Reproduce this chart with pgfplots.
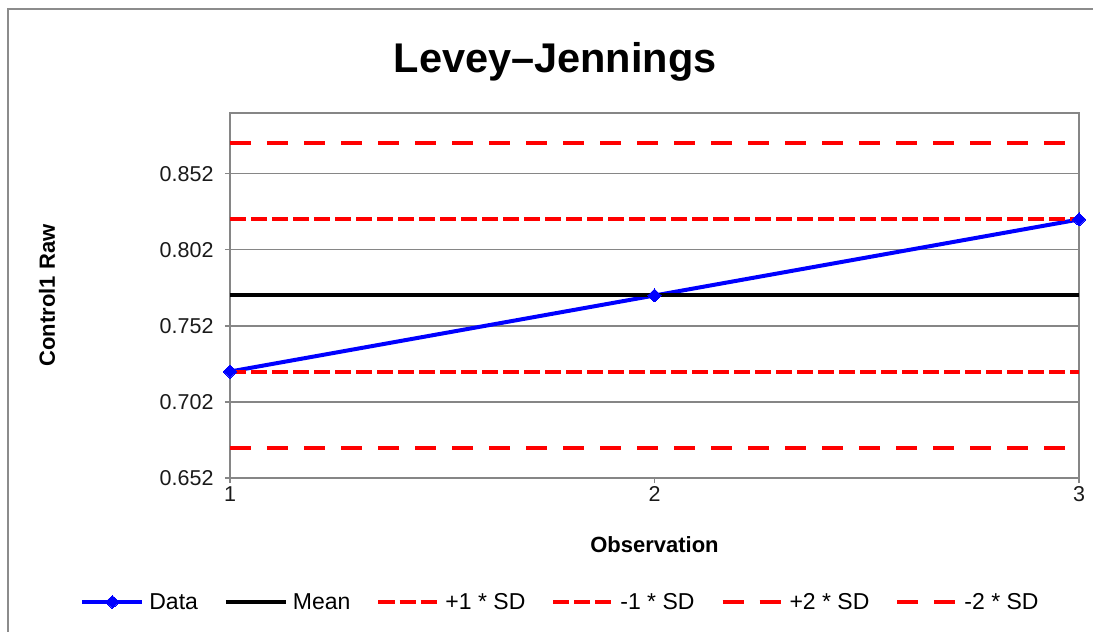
\documentclass[border=0pt]{standalone}
\usepackage{fontspec}
\setmainfont{Liberation Sans}
\usepackage{pgfplots}
\pgfplotsset{compat=1.18}
\definecolor{gridgray}{HTML}{868686}
\definecolor{framegray}{HTML}{8C8C8C}
\definecolor{ticktext}{HTML}{1A1A1A}
\begin{document}
\begin{tikzpicture}[x=1pt,y=1pt]
\path[use as bounding box] (0,0) rectangle (1093,632);
\draw[framegray, line width=2pt] (7.5,0) -- (7.5,622.5) -- (1093,622.5);
\begin{axis}[
  at={(230pt,154pt)}, anchor=south west,
  scale only axis, width=849pt, height=365pt,
  xmin=1, xmax=3, ymin=0.652, ymax=0.892,
  xtick={1,2,3}, xticklabels={1,2,3},
  ytick={0.652,0.702,0.752,0.802,0.852},
  yticklabels={0.652,0.702,0.752,0.802,0.852},
  tick align=outside, major tick length=5pt,
  xtick pos=bottom, ytick pos=left,
  tick style={gridgray, line width=1.2pt},
  axis line style={gridgray, line width=1.5pt},
  ymajorgrids, major grid style={gridgray, line width=1.2pt},
  tick label style={font=\fontsize{21.5}{24}\selectfont, text=ticktext},
  yticklabel style={xshift=-8pt},
  clip=false,
  title={Levey–Jennings},
  title style={font=\fontsize{41.5}{48}\selectfont\bfseries, at={(axis description cs:0.383,1.125)}, anchor=center},
  xlabel={Observation},
  xlabel style={font=\fontsize{22}{26}\selectfont\bfseries, at={(axis description cs:0.5,-0.1836)}, anchor=center},
  ylabel={Control1 Raw},
  ylabel style={font=\fontsize{22}{26}\selectfont\bfseries, at={(axis description cs:-0.2155,0.5)}, anchor=center, rotate=0},
  legend columns=-1,
  legend style={at={(axis description cs:-0.180,-0.3397)}, anchor=west, draw=none, fill=none,
    font=\fontsize{23}{27}\selectfont,
    /tikz/every even column/.append style={column sep=24pt},
    /tikz/every odd column/.append style={column sep=3pt}},
  legend image code/.code={\draw[mark repeat=2,mark phase=2,#1] plot coordinates {(0pt,0pt) (30pt,0pt) (60pt,0pt)};},
]
\addplot[blue, line width=4pt, mark=diamond*, mark size=6.5pt, mark options={solid, line width=0pt, xscale=1.4}] coordinates {(1,0.722) (2,0.772) (3,0.822)};
\addlegendentry{Data}
\addplot[black, line width=4pt] coordinates {(1,0.772) (3,0.772)};
\addlegendentry{Mean}
\addplot[red, line width=4pt, dash pattern=on 16pt off 5pt] coordinates {(1,0.822) (3,0.822)};
\addlegendentry{+1 * SD}
\addplot[red, line width=4pt, dash pattern=on 16pt off 5pt] coordinates {(1,0.722) (3,0.722)};
\addlegendentry{-1 * SD}
\addplot[red, line width=4pt, dash pattern=on 21pt off 16pt] coordinates {(1,0.872) (3,0.872)};
\addlegendentry{+2 * SD}
\addplot[red, line width=4pt, dash pattern=on 21pt off 16pt] coordinates {(1,0.672) (3,0.672)};
\addlegendentry{-2 * SD}
\end{axis}
\end{tikzpicture}
\end{document}
